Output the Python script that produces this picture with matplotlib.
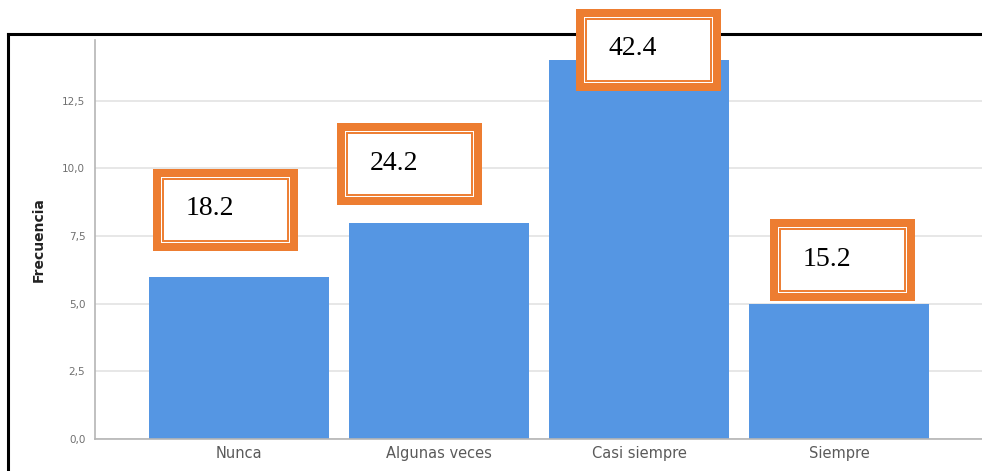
import matplotlib.pyplot as plt
from matplotlib.patches import Rectangle
from matplotlib.lines import Line2D
from matplotlib.ticker import FuncFormatter

# Datos
categorias = ["Nunca", "Algunas veces", "Casi siempre", "Siempre"]
frecuencias = [6, 8, 14, 5]
porcentajes = ["18.2", "24.2", "42.4", "15.2"]

# Posicion de las cajas naranjas (centro x en categorias, base y en frecuencia)
caja_x = [-0.07, 0.85, 2.045, 3.015]
caja_y = [6.95, 8.65, 12.87, 5.1]

color_barra = "#5596E3"
color_naranja = "#ED7D31"

W, H = 982, 471
fig = plt.figure(figsize=(W / 100, H / 100), dpi=100)
ax = fig.add_axes([95 / W, (H - 439) / H, (W - 95) / W, (439 - 40) / H])

x = range(len(categorias))
ax.bar(x, frecuencias, width=0.9, color=color_barra, zorder=2)
ax.set_xlim(-0.72, 3.715)
ax.set_ylim(0, 14.75)
ax.set_yticks([0, 2.5, 5, 7.5, 10, 12.5])
ax.yaxis.set_major_formatter(FuncFormatter(lambda v, p: f"{v:.1f}".replace(".", ",")))
ax.set_xticks(list(x))
ax.set_xticklabels(categorias, fontsize=10.5, color="#5a5a5a", family="DejaVu Sans")
ax.tick_params(axis="y", labelsize=7.5, labelcolor="#707070", length=0, pad=7)
ax.tick_params(axis="x", length=0, pad=5)
ax.grid(axis="y", color="#e3e3e3", linewidth=1.2, zorder=0)
ax.set_axisbelow(True)
for lado in ["top", "right"]:
    ax.spines[lado].set_visible(False)
ax.spines["left"].set_color("#b5b5b5")
ax.spines["bottom"].set_color("#b5b5b5")
ax.spines["left"].set_linewidth(1.2)
ax.spines["bottom"].set_linewidth(1.2)
ax.set_ylabel("Frecuencia", fontsize=10, fontweight="bold", color="#222222",
              family="Liberation Sans Narrow", labelpad=12)

# Cajas naranjas con borde doble
fig.canvas.draw()
inv = fig.transFigure.inverted()
bw, bh = 145, 82
for cx, by, txt in zip(caja_x, caja_y, porcentajes):
    px, py = ax.transData.transform((cx, by))
    x0, y0 = px - bw / 2, py
    capas = [
        (0, color_naranja, color_naranja, 0),
        (8, "white", "white", 0),
        (10, "none", color_naranja, 1.4),
        (12, "white", "none", 0),
    ]
    for inset, fc, ec, lw in capas:
        (fx, fy) = inv.transform((x0 + inset, y0 + inset))
        (fx2, fy2) = inv.transform((x0 + bw - inset, y0 + bh - inset))
        fig.add_artist(Rectangle((fx, fy), fx2 - fx, fy2 - fy, transform=fig.transFigure,
                                 facecolor=fc, edgecolor=ec, linewidth=lw, zorder=5))
    tx, ty = inv.transform((x0 + 33, y0 + bh / 2 + 1))
    fig.text(tx, ty, txt, fontsize=20, family="Liberation Serif", color="black",
             va="center", ha="left", zorder=6)

# Marco negro
fig.add_artist(Line2D([8 / W, 8 / W], [0, (H - 34) / H], transform=fig.transFigure,
                      color="black", linewidth=2.2, zorder=1))
fig.add_artist(Line2D([8 / W, 1], [(H - 34) / H, (H - 34) / H], transform=fig.transFigure,
                      color="black", linewidth=2.2, zorder=1))

fig.savefig("out.png", dpi=100)
